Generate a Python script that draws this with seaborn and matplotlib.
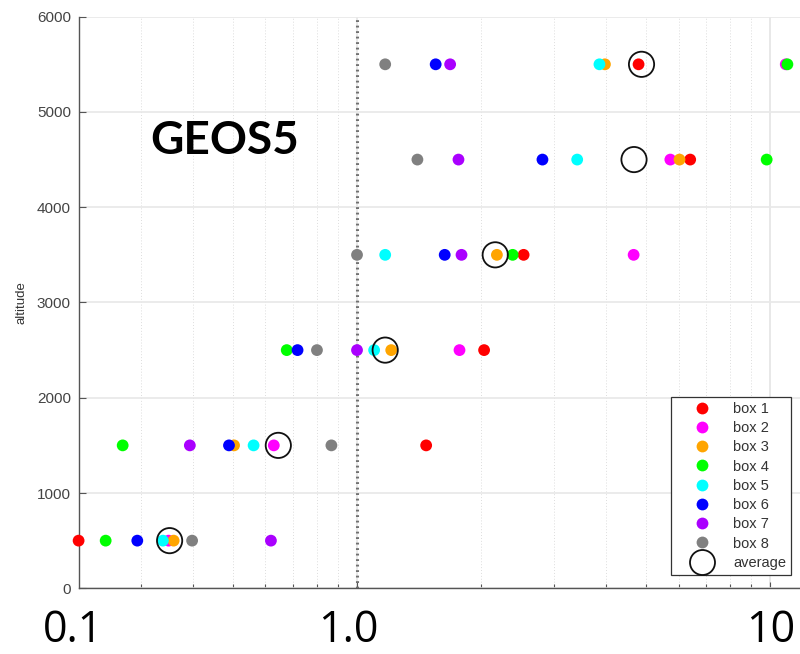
import numpy as np
import pandas as pd
import matplotlib
matplotlib.use("Agg")
import matplotlib.pyplot as plt
from matplotlib.lines import Line2D
from matplotlib.ticker import LogLocator, NullFormatter, FixedLocator
import seaborn as sns

# ---------------- data ----------------
altitudes = [500, 1500, 2500, 3500, 4500, 5500]
box_names = ["box 1", "box 2", "box 3", "box 4", "box 5", "box 6", "box 7", "box 8"]
box1 = [0.212, 1.47, 2.03, 2.53, 6.40, 4.80]
box2 = [0.350, 0.629, 1.77, 4.67, 5.73, 10.9]
box3 = [0.360, 0.504, 1.21, 2.18, 6.03, 3.98]
box4 = [0.2465, 0.271, 0.676, 2.38, 9.80, 11.0]
box5 = [0.339, 0.562, 1.10, 1.17, 3.41, 3.86]
box6 = [0.294, 0.490, 0.718, 1.63, 2.81, 1.55]
box7 = [0.619, 0.394, 1.00, 1.79, 1.76, 1.68]
box8 = [0.399, 0.867, 0.80, 1.00, 1.40, 1.17]
average = [0.352, 0.645, 1.17, 2.16, 4.68, 4.88]
box_colors = ["#ff0000", "#ff00ff", "#ffa500", "#00ff00", "#00ffff", "#0000ff", "#aa00ff", "#808080"]
xtick_labels = ["0.1", "1.0", "10"]
ytick_values = [0, 1000, 2000, 3000, 4000, 5000, 6000]
title_text = "GEOS5"

# ---------------- build frame ----------------
series = [box1, box2, box3, box4, box5, box6, box7, box8]
rows = []
for name, vals in zip(box_names, series):
    for a, v in zip(altitudes, vals):
        rows.append({"box": name, "altitude": a, "value": v})
df = pd.DataFrame(rows)
avg_df = pd.DataFrame({"altitude": altitudes, "value": average})

sns.set_style("white")
plt.rcParams["font.family"] = ["Liberation Sans", "DejaVu Sans"]

fig = plt.figure(figsize=(8.0, 6.54), dpi=100)
ax = fig.add_axes([0.0991, 0.1005, 0.9009, 0.874])

xmin, xmax = 0.2128, 11.8
ax.set_xscale("log")
ax.set_xlim(xmin, xmax)
ax.set_ylim(0, 6000)

# grid
ax.set_yticks(ytick_values)
ax.yaxis.grid(True, color="#e8e8e8", lw=1.2, ls="-")
ax.xaxis.set_major_locator(FixedLocator([1, 10]))
ax.xaxis.set_minor_locator(LogLocator(base=10, subs=np.arange(2, 10)))
ax.xaxis.set_major_formatter(NullFormatter())
ax.xaxis.set_minor_formatter(NullFormatter())
ax.grid(True, which="major", axis="x", color="#e4e4e4", lw=1.2, ls="-")
ax.grid(True, which="minor", axis="x", color="#dddddd", lw=0.7, ls=(0, (1, 2)))
ax.set_axisbelow(True)

ax.axvline(1.0, color="#707070", lw=2.2, ls=(0, (0.6, 1.2)), zorder=1.5)

# data
sns.scatterplot(data=df, x="value", y="altitude", hue="box", hue_order=box_names,
                palette=box_colors, s=72, linewidth=0, legend=False, ax=ax,
                clip_on=False, zorder=3)
ax.scatter(avg_df["value"], avg_df["altitude"], s=330, facecolors="none",
           edgecolors="#111111", linewidths=1.3, zorder=4, clip_on=False)

# spines & ticks
for side in ["top", "right"]:
    ax.spines[side].set_visible(False)
for side in ["left", "bottom"]:
    ax.spines[side].set_color("#555555")
    ax.spines[side].set_linewidth(1.0)
ax.tick_params(axis="y", which="major", direction="in", length=5, width=0.8,
               color="#555555", labelcolor="#444444", labelsize=11, pad=6, left=True)
ax.tick_params(axis="x", which="major", direction="in", length=4, width=0.8,
               color="#555555", bottom=True)
ax.tick_params(axis="x", which="minor", direction="in", length=3, width=0.8,
               color="#555555", bottom=True)
ax.set_xlabel("")
ax.set_ylabel("altitude", fontsize=9.5, color="#333333")
ax.yaxis.set_label_coords(-0.072, 0.5)

# big custom x labels
label_pos = [0.206, 0.95, 10.0]
for lp, lt in zip(label_pos, xtick_labels):
    ax.text(lp, -0.094, lt, transform=ax.get_xaxis_transform(), ha="center",
            va="baseline", fontsize=31, color="black", family=["Open Sans", "DejaVu Sans"],
            clip_on=False)

ax.text(0.2022, 0.7826, title_text, transform=ax.transAxes, ha="center", va="center",
        fontsize=33, fontweight="bold", color="black", family=["Lato", "DejaVu Sans"])

# legend
handles = [Line2D([], [], ls="none", marker="o", markersize=8.5, markerfacecolor=c,
                  markeredgewidth=0) for c in box_colors]
handles.append(Line2D([], [], ls="none", marker="o", markersize=18, markerfacecolor="none",
                      markeredgecolor="#111111", markeredgewidth=1.3))
labels = box_names + ["average"]
leg = ax.legend(handles, labels, loc="lower right", bbox_to_anchor=(0.9875, 0.0233),
                borderaxespad=0, frameon=True, fancybox=False, framealpha=1,
                edgecolor="#333333", fontsize=10.5, labelspacing=0.36,
                handlelength=3.6, handletextpad=0.3, borderpad=0.35)
leg.get_frame().set_linewidth(0.9)
for t in leg.get_texts():
    t.set_color("#333333")

fig.savefig("out.png", dpi=100)
